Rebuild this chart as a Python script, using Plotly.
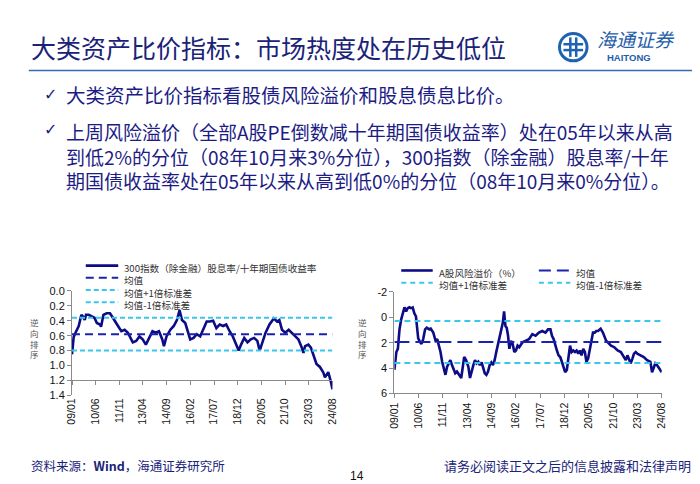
import plotly.graph_objects as go

W, H = 700, 484

# ---------------- data ----------------
tick_dates = ["2009-01-01", "2010-06-01", "2011-11-01", "2013-04-01", "2014-09-01", "2016-02-01",
              "2017-07-01", "2018-12-01", "2020-05-01", "2021-10-01", "2023-03-01", "2024-08-01"]
tick_labels = ["09/01", "10/06", "11/11", "13/04", "14/09", "16/02",
               "17/07", "18/12", "20/05", "21/10", "23/03", "24/08"]

left_yticks = [0.0, 0.2, 0.4, 0.6, 0.8, 1.0, 1.2, 1.4]
right_yticks = [-2, 0, 2, 4, 6]
right_yticklabels = ["-2", "0", "2", "4", "6"]

# 300指数（除金融）股息率/十年期国债收益率
div_dates = [
    "2009-01-01", "2009-02-06", "2009-03-18", "2009-05-28", "2009-07-25", "2009-08-25", "2009-10-06", "2009-11-03",
    "2010-01-01", "2010-03-10", "2010-05-06", "2010-06-28", "2010-09-06", "2010-09-28", "2010-11-18",
    "2011-01-28", "2011-04-10", "2011-06-03", "2011-07-25", "2011-10-03", "2011-12-15",
    "2012-02-25", "2012-05-06", "2012-07-03", "2012-08-21", "2012-11-03",
    "2013-01-13", "2013-03-25", "2013-06-03", "2013-08-15", "2013-10-25",
    "2014-01-06", "2014-03-16", "2014-05-28", "2014-07-03", "2014-08-28", "2014-11-21",
    "2015-02-03", "2015-04-12", "2015-06-09", "2015-08-01", "2015-10-12", "2015-12-01",
    "2016-01-28", "2016-04-10", "2016-06-18", "2016-09-01", "2016-11-10",
    "2017-01-22", "2017-04-01", "2017-06-12", "2017-08-22", "2017-11-03",
    "2018-01-15", "2018-03-25", "2018-06-06", "2018-08-15", "2018-10-28", "2018-12-22",
    "2019-02-12", "2019-04-22", "2019-07-03", "2019-09-12", "2019-11-25",
    "2020-02-03", "2020-03-25", "2020-05-22", "2020-08-01", "2020-10-25",
    "2021-01-28", "2021-04-10", "2021-05-28", "2021-07-25", "2021-10-06", "2021-12-18",
    "2022-02-28", "2022-05-10", "2022-07-20", "2022-10-01", "2022-11-06", "2022-12-12",
    "2023-02-22", "2023-04-18", "2023-06-10", "2023-08-18", "2023-11-01",
    "2024-01-12", "2024-02-18", "2024-05-01", "2024-06-28", "2024-08-01",
]
div_values = [
    0.85, 0.62, 0.56, 0.47, 0.32, 0.34, 0.39, 0.32,
    0.32, 0.34, 0.36, 0.43, 0.45, 0.48, 0.32,
    0.30, 0.30, 0.35, 0.41, 0.47, 0.54,
    0.52, 0.56, 0.63, 0.69, 0.67,
    0.61, 0.65, 0.72, 0.63, 0.54,
    0.56, 0.54, 0.65, 0.74, 0.61, 0.52,
    0.47, 0.39, 0.26, 0.39, 0.43, 0.52,
    0.65, 0.63, 0.58, 0.61, 0.52,
    0.41, 0.41, 0.40, 0.50, 0.45,
    0.47, 0.45, 0.54, 0.61, 0.72, 0.80,
    0.72, 0.63, 0.69, 0.65, 0.63,
    0.67, 0.80, 0.69, 0.56, 0.45,
    0.37, 0.41, 0.39, 0.52, 0.56, 0.52,
    0.56, 0.61, 0.65, 0.76, 0.83, 0.74,
    0.72, 0.76, 0.87, 0.98, 1.02,
    1.09, 1.16, 1.09, 1.22, 1.32,
]
div_mean, div_plus1, div_minus1 = 0.58, 0.36, 0.80

# A股风险溢价（%）
erp_dates = [
    "2009-01-01", "2009-01-21", "2009-02-12", "2009-03-16", "2009-04-20", "2009-05-25", "2009-06-29", "2009-08-04",
    "2009-09-08", "2009-10-12", "2009-11-17", "2009-12-21",
    "2010-01-26", "2010-02-28", "2010-04-05", "2010-04-25", "2010-05-23", "2010-07-04", "2010-08-02", "2010-09-06",
    "2010-10-17", "2010-11-21",
    "2011-01-10", "2011-02-14", "2011-04-09", "2011-05-28", "2011-07-02", "2011-08-06", "2011-09-10", "2011-10-15",
    "2011-11-19", "2011-12-24",
    "2012-01-28", "2012-03-02", "2012-04-07", "2012-05-11", "2012-06-15", "2012-07-20", "2012-08-25", "2012-09-29",
    "2012-11-03", "2012-11-24", "2012-12-29",
    "2013-01-26", "2013-03-07", "2013-04-25", "2013-05-30", "2013-07-04", "2013-08-09", "2013-09-13", "2013-10-17",
    "2013-11-22", "2013-12-26",
    "2014-02-01", "2014-03-05", "2014-04-09", "2014-05-14", "2014-06-18", "2014-07-23", "2014-08-27", "2014-10-01",
    "2014-11-05", "2014-12-10",
    "2015-01-15", "2015-02-18", "2015-03-24", "2015-04-28", "2015-05-25", "2015-06-23", "2015-07-20", "2015-08-18",
    "2015-09-15", "2015-10-20", "2015-11-24", "2015-12-29",
    "2016-02-03", "2016-03-08", "2016-04-12", "2016-06-21", "2016-08-30", "2016-11-08",
    "2017-01-17", "2017-03-26", "2017-06-05", "2017-08-14", "2017-10-22", "2017-12-17",
    "2018-02-05", "2018-03-10", "2018-04-14", "2018-05-18", "2018-06-23", "2018-07-28", "2018-09-02", "2018-10-06",
    "2018-11-10", "2018-12-15",
    "2019-01-20", "2019-02-24", "2019-03-29", "2019-05-03", "2019-06-07", "2019-07-12", "2019-08-16", "2019-09-20",
    "2019-10-25", "2019-11-29",
    "2020-01-04", "2020-02-08", "2020-03-12", "2020-04-17", "2020-05-21", "2020-06-25", "2020-07-30", "2020-09-04",
    "2020-10-08", "2020-11-13",
    "2021-01-08", "2021-02-26", "2021-04-01", "2021-05-05", "2021-06-10", "2021-07-14", "2021-08-18", "2021-10-27",
    "2022-01-06", "2022-03-15", "2022-05-24", "2022-06-28", "2022-08-02", "2022-09-07", "2022-10-11", "2022-11-16",
    "2022-12-20",
    "2023-01-25", "2023-02-28", "2023-05-08", "2023-07-16", "2023-09-25", "2023-12-04",
    "2024-01-08", "2024-02-13", "2024-03-17", "2024-04-22", "2024-05-26", "2024-07-01", "2024-08-01",
]
erp_values = [
    4.15, 3.13, 2.74, 2.49, 0.95, 0.18, -0.21, -0.79,
    -0.46, -0.72, -0.79, -0.72,
    -0.77, -0.33, -0.08, 0.95, 1.67, 1.97, 2.10, 1.72,
    0.95, 0.82,
    0.95, 0.90, 1.21, 1.85, 1.72, 2.23, 2.74, 3.51,
    4.15, 4.54,
    3.90, 3.64, 3.38, 3.77, 4.15, 4.41, 4.28, 4.54,
    4.67, 4.79, 3.77,
    3.13, 3.38, 3.90, 4.79, 4.15, 3.77, 3.38, 3.64,
    3.51, 3.77,
    3.56, 3.90, 4.41, 4.54, 4.28, 3.77, 3.56, 3.77,
    3.38, 2.74,
    2.10, 1.59, 0.82, 0.44, -0.46, 0.69, 0.82, 1.46,
    2.49, 1.85, 2.10, 2.74,
    2.62, 2.23, 2.36, 1.97, 1.85, 1.72,
    1.33, 1.46, 1.21, 1.08, 1.21, 0.95,
    0.95, 1.46, 1.72, 2.23, 2.62, 3.00, 3.13, 3.51,
    4.03, 4.33,
    4.15, 3.00, 2.23, 2.74, 2.62, 2.74, 2.62, 2.87,
    2.62, 3.00,
    2.49, 2.74, 3.51, 3.26, 2.49, 1.72, 1.21, 1.21,
    1.08, 1.08,
    0.90, 1.21, 1.59, 1.85, 1.97, 2.10, 2.23, 2.36,
    2.62, 2.74, 3.13, 3.38, 3.00, 3.38, 3.64, 3.26,
    2.87,
    2.74, 2.87, 3.00, 3.13, 3.38, 3.51,
    4.33, 3.90, 3.64, 3.77, 3.97, 4.15, 4.33,
]
erp_mean, erp_plus1, erp_minus1 = 1.95, 0.30, 3.60

y_title_chars = ["逆", "向", "排", "序"]

# ---------------- styling ----------------
NAVY = "#0c0c86"
MEAN = "#1b22b0"
CYAN = "#38c8ec"
TXT = "#1c1c84"
CJK = "Noto Sans CJK SC, DejaVu Sans, sans-serif"
LAT = "Liberation Sans, Arial, sans-serif"


def px(x):
    return x / W


def py(y):
    return 1 - y / H


fig = go.Figure()

x_start, x_end = div_dates[0], div_dates[-1]

# left chart traces
fig.add_trace(go.Scatter(x=div_dates, y=div_values, mode="lines", line=dict(color=NAVY, width=2.6),
                         xaxis="x", yaxis="y", showlegend=False, name="300指数（除金融）股息率/十年期国债收益率"))
for val, col, dash in [(div_mean, MEAN, "8px,5px"), (div_plus1, CYAN, "5px,3px"), (div_minus1, CYAN, "5px,3px")]:
    fig.add_trace(go.Scatter(x=[x_start, x_end], y=[val, val], mode="lines",
                             line=dict(color=col, width=2, dash=dash), xaxis="x", yaxis="y", showlegend=False))

# right chart traces
fig.add_trace(go.Scatter(x=erp_dates, y=erp_values, mode="lines", line=dict(color=NAVY, width=2.6),
                         xaxis="x2", yaxis="y2", showlegend=False, name="A股风险溢价（%）"))
for val, col, dash in [(erp_mean, MEAN, "15px,6px"), (erp_plus1, CYAN, "6px,4px"), (erp_minus1, CYAN, "6px,4px")]:
    fig.add_trace(go.Scatter(x=[x_start, x_end], y=[val, val], mode="lines",
                             line=dict(color=col, width=2, dash=dash), xaxis="x2", yaxis="y2", showlegend=False))

AX = "#8a8a8a"
tickfont = dict(family=LAT, size=11, color="#111")
xtickfont = dict(family=LAT, size=10.5, color="#111")

# axes
L_dom = [px(58), px(323)]
fig.update_layout(
    xaxis=dict(domain=L_dom, anchor="y", type="date", range=[x_start, x_end],
               tickvals=tick_dates, ticktext=tick_labels, tickangle=-90, showline=False,
               ticks="", showgrid=False, zeroline=False, tickfont=xtickfont),
    yaxis=dict(domain=[py(391), py(284)], anchor="x", range=[1.4, 0], tickvals=left_yticks, tickformat=".1f",
               showline=True, linecolor=AX, linewidth=1, ticks="outside", ticklen=4, tickcolor=AX,
               showgrid=False, zeroline=False, tickfont=tickfont),
    xaxis3=dict(overlaying="x", anchor="free", position=py(284 + 1.2 / 1.4 * 107), domain=L_dom,
                type="date", range=[x_start, x_end], tickvals=tick_dates, showticklabels=False,
                showline=True, linecolor=AX, linewidth=1, ticks="outside", ticklen=4, tickcolor=AX,
                showgrid=False, zeroline=False),
    xaxis2=dict(domain=[px(386), px(658)], anchor="y2", type="date", range=[x_start, x_end],
                tickvals=tick_dates, ticktext=tick_labels, tickangle=-90,
                showline=True, linecolor=AX, linewidth=1, ticks="outside", ticklen=4, tickcolor=AX,
                showgrid=False, zeroline=False, tickfont=xtickfont),
    yaxis2=dict(domain=[py(389), py(285)], anchor="x2", range=[6, -2], tickvals=right_yticks,
                ticktext=right_yticklabels,
                showline=True, linecolor=AX, linewidth=1, ticks="outside", ticklen=4, tickcolor=AX,
                showgrid=False, zeroline=False, tickfont=tickfont),
)
# dummy trace so xaxis3 is drawn
fig.add_trace(go.Scatter(x=[x_start], y=[None], xaxis="x3", yaxis="y", showlegend=False, hoverinfo="skip"))

shapes = []
annotations = []


def text(x, y, s, size, color=TXT, family=CJK, xanchor="left", yanchor="middle", **kw):
    annotations.append(dict(x=px(x), y=py(y), xref="paper", yref="paper", text=s, showarrow=False,
                            xanchor=xanchor, yanchor=yanchor, font=dict(size=size, color=color, family=family),
                            **kw))


def hline(x0, x1, y, color, width=2, dash="solid"):
    shapes.append(dict(type="line", xref="paper", yref="paper", x0=px(x0), x1=px(x1), y0=py(y), y1=py(y),
                       line=dict(color=color, width=width, dash=dash)))


# header
text(14, 34, "大类资产比价指标：市场热度处在历史低位", 25, color="#1a2378")
hline(14, 690, 58, "#2f6db5", width=1.5)

# logo
LOGO = "#1f63b0"
shapes.append(dict(type="circle", xref="paper", yref="paper", x0=px(554), x1=px(582), y0=py(48), y1=py(20),
                   line=dict(color=LOGO, width=3)))
hline(558, 578, 31, LOGO, width=2.5)
hline(558, 578, 37, LOGO, width=2.5)
shapes.append(dict(type="line", xref="paper", yref="paper", x0=px(565), x1=px(565), y0=py(24), y1=py(44),
                   line=dict(color=LOGO, width=2.5)))
shapes.append(dict(type="line", xref="paper", yref="paper", x0=px(571), x1=px(571), y0=py(24), y1=py(44),
                   line=dict(color=LOGO, width=2.5)))
text(590, 25.5, "<i>海通证券</i>", 19, color="#1f5ea8")
text(600, 45, "<b>HAITONG</b>", 9.5, color="#1f5ea8", family=LAT)

# bullets
for y in (83, 118):
    text(27, y, "✓", 16, color=TXT, family="DejaVu Sans")
text(50, 83, "大类资产比价指标看股债风险溢价和股息债息比价。", 19.5)
text(50, 105, "上周风险溢价（全部A股PE倒数减十年期国债收益率）处在05年以来从高<br>"
              "到低2%的分位（08年10月来3%分位），300指数（除金融）股息率/十年<br>"
              "期国债收益率处在05年以来从高到低0%的分位（08年10月来0%分位）。",
     19, yanchor="top", align="left")

# y-axis titles (stacked characters)
for i, ch in enumerate(y_title_chars):
    text(20, 316 + i * 11, ch, 8.5, color="#555", xanchor="center")
    text(354, 316 + i * 11, ch, 8.5, color="#555", xanchor="center")

# left legend
LEG = "#333"
hline(72, 105, 258, NAVY, 2.6)
hline(72, 105, 270.5, MEAN, 2, "8px,5px")
hline(72, 105, 283, CYAN, 2, "5px,3px")
hline(72, 105, 295.5, CYAN, 2, "5px,3px")
text(109, 251, "300指数（除金融）股息率/十年期国债收益率<br>均值<br>均值+1倍标准差<br>均值-1倍标准差",
     9.6, color=LEG, yanchor="top", align="left")

# right legend
hline(393, 425, 263, NAVY, 2.6)
hline(393, 425, 275.5, CYAN, 2, "5px,4px")
text(429, 256, "A股风险溢价（%）<br>均值+1倍标准差", 9.6, color=LEG, yanchor="top", align="left")
hline(533, 565, 263, MEAN, 2, "12px,6px")
hline(533, 565, 275.5, CYAN, 2, "5px,4px")
text(569, 256, "均值<br>均值-1倍标准差", 9.6, color=LEG, yanchor="top", align="left")

# footer
text(14, 463, "资料来源：<b>Wind</b>，海通证券研究所", 12.5, color="#1a2378")
text(348, 474, "14", 12, color="#111", family=LAT, xanchor="center")
text(690, 463, "请务必阅读正文之后的信息披露和法律声明", 13, color="#1a2378", xanchor="right")

fig.update_layout(width=W, height=H, margin=dict(l=0, r=0, t=0, b=0), paper_bgcolor="white",
                  plot_bgcolor="rgba(0,0,0,0)", showlegend=False, shapes=shapes, annotations=annotations)

fig.write_html("out.html")
